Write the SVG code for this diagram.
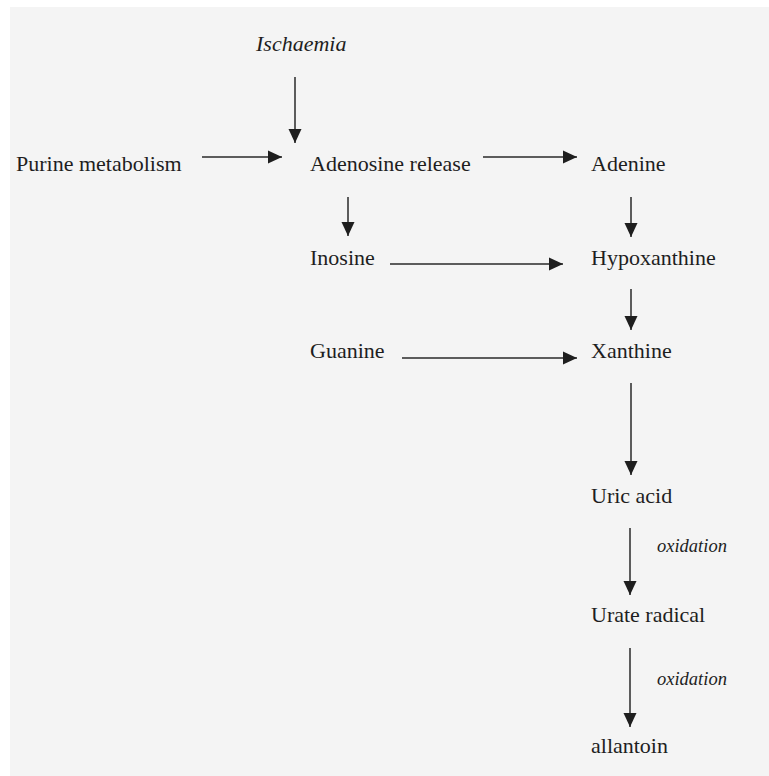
<svg xmlns="http://www.w3.org/2000/svg" width="769" height="776" viewBox="0 0 769 776">
<defs>
<marker id="ah" markerWidth="14" markerHeight="14" viewBox="0 0 14 14" refX="14" refY="7" orient="auto" markerUnits="userSpaceOnUse">
<path d="M0,0.5 L14,7 L0,13.5 Z" fill="#1e1e1e"/>
</marker>
<style>
.t{font-family:"Liberation Serif","Times New Roman",serif;font-size:22px;fill:#1e1e1e}
.i{font-style:italic}
.s{font-size:18.5px}
.c line{stroke:#2a2a2a;stroke-width:1.5;marker-end:url(#ah)}
</style>
</defs>
<rect width="769" height="776" fill="#ffffff"/>
<rect x="10" y="7" width="759" height="769" fill="#f4f4f4"/>
<g id="n-ischaemia"><text class="t i" x="256" y="51" font-size="22.5">Ischaemia</text></g>
<g id="n-purine"><text class="t" x="16" y="171">Purine metabolism</text></g>
<g id="n-adenosine"><text class="t" x="310" y="171">Adenosine release</text></g>
<g id="n-adenine"><text class="t" x="591" y="171">Adenine</text></g>
<g id="n-inosine"><text class="t" x="310" y="265">Inosine</text></g>
<g id="n-hypoxanthine"><text class="t" x="591" y="265">Hypoxanthine</text></g>
<g id="n-guanine"><text class="t" x="310" y="358">Guanine</text></g>
<g id="n-xanthine"><text class="t" x="591" y="358">Xanthine</text></g>
<g id="n-uric"><text class="t" x="591" y="503">Uric acid</text></g>
<g id="n-urate"><text class="t" x="591" y="622">Urate radical</text></g>
<g id="n-allantoin"><text class="t" x="591" y="753">allantoin</text></g>
<g id="connectors" class="c">
<line x1="295" y1="77" x2="295" y2="143"/>
<line x1="202" y1="157" x2="282" y2="157"/>
<line x1="483" y1="157" x2="577" y2="157"/>
<line x1="348" y1="197" x2="348" y2="236"/>
<line x1="631" y1="197" x2="631" y2="237"/>
<line x1="390" y1="264" x2="563" y2="264"/>
<line x1="631" y1="289" x2="631" y2="330"/>
<line x1="402" y1="358" x2="577" y2="358"/>
<line x1="631" y1="383" x2="631" y2="475"/>
<line x1="630" y1="528" x2="630" y2="595"/>
<line x1="630" y1="648" x2="630" y2="727"/>
</g>
<g id="labels">
<text class="t i s" x="657" y="552">oxidation</text>
<text class="t i s" x="657" y="685">oxidation</text>
</g>
</svg>
